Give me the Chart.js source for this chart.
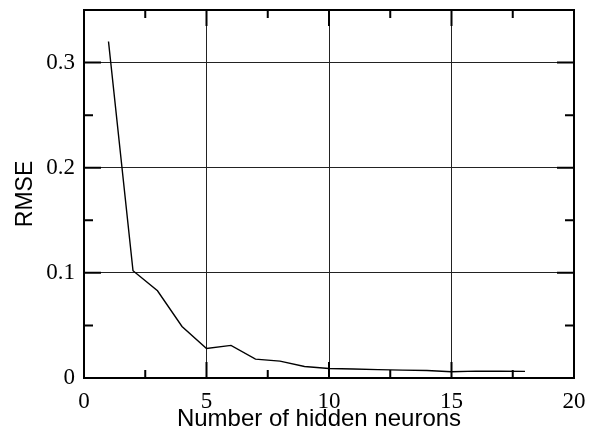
<!DOCTYPE html>
<html>
<head>
<meta charset="utf-8">
<script src="https://cdn.jsdelivr.net/npm/chart.js@4/dist/chart.umd.min.js"></script>
<style>
  html, body { margin: 0; padding: 0; background: #fff; }
  #wrap { width: 599px; height: 438px; position: relative; }
</style>
</head>
<body>
<div id="wrap"><canvas id="rmse-chart"></canvas></div>
<script>
// neuronas ocultas vs RMSE
var neurons = [1, 2, 3, 4, 5, 6, 7, 8, 9, 10, 11, 12, 13, 14, 15, 16, 17, 18];
var rmse = [0.320, 0.102, 0.083, 0.049, 0.028, 0.031, 0.018, 0.016, 0.011, 0.009,
            0.0085, 0.008, 0.0075, 0.0072, 0.006, 0.0065, 0.0064, 0.0063];
var xMajor = [0, 5, 10, 15, 20];
var xMinor = [2.5, 7.5, 12.5, 17.5];
var yMajor = [0, 0.1, 0.2, 0.3];
var yMinor = [0.05, 0.15, 0.25];

// marco y marcas hacia dentro en los cuatro lados
var framePlugin = {
    id: 'frame',
    afterDatasetsDraw: function (chart) {
        var ctx = chart.ctx, a = chart.chartArea;
        var xs = chart.scales.x, ys = chart.scales.y;
        ctx.save();
        ctx.strokeStyle = '#000';
        ctx.lineWidth = 2;
        ctx.beginPath();
        xMajor.forEach(function (v) {
            var p = xs.getPixelForValue(v);
            ctx.moveTo(p, a.bottom); ctx.lineTo(p, a.bottom - 16);
            ctx.moveTo(p, a.top); ctx.lineTo(p, a.top + 16);
        });
        xMinor.forEach(function (v) {
            var p = xs.getPixelForValue(v);
            ctx.moveTo(p, a.bottom); ctx.lineTo(p, a.bottom - 8);
            ctx.moveTo(p, a.top); ctx.lineTo(p, a.top + 8);
        });
        yMajor.forEach(function (v) {
            var p = ys.getPixelForValue(v);
            ctx.moveTo(a.left, p); ctx.lineTo(a.left + 17, p);
            ctx.moveTo(a.right, p); ctx.lineTo(a.right - 17, p);
        });
        yMinor.forEach(function (v) {
            var p = ys.getPixelForValue(v);
            ctx.moveTo(a.left, p); ctx.lineTo(a.left + 9, p);
            ctx.moveTo(a.right, p); ctx.lineTo(a.right - 9, p);
        });
        ctx.stroke();
        ctx.strokeRect(a.left, a.top, a.right - a.left, a.bottom - a.top);
        ctx.restore();
    }
};

var ctx = document.getElementById('rmse-chart').getContext('2d');
var rmseChart = new Chart(ctx, {
    type: 'line',
    data: {
        datasets: [{
            label: 'RMSE',
            data: neurons.map(function (n, i) { return { x: n, y: rmse[i] }; }),
            borderColor: '#000',
            borderWidth: 1.4,
            pointRadius: 0,
            fill: false,
            tension: 0
        }]
    },
    options: {
        responsive: true,
        maintainAspectRatio: false,
        animation: false,
        layout: { padding: { top: 10, right: 25, bottom: 0, left: 0 } },
        plugins: {
            legend: { display: false },
            tooltip: { enabled: false }
        },
        scales: {
            x: {
                type: 'linear',
                min: 0,
                max: 20,
                afterFit: function (s) {
                    s.height = 60;
                    s.paddingLeft = 0; s.paddingRight = 0;
                },
                afterBuildTicks: function (s) {
                    s.ticks = xMajor.map(function (v) { return { value: v }; });
                },
                grid: { color: '#222', lineWidth: 1, drawTicks: false },
                border: { display: false },
                ticks: {
                    padding: 10,
                    color: '#000',
                    font: { family: '"Liberation Serif", serif', size: 23 }
                },
                title: {
                    display: true,
                    // espacios finales para correr el título un poco a la izquierda
                    text: 'Number of hidden neurons   ',
                    color: '#000',
                    padding: { top: 0, bottom: 4 },
                    font: { family: '"Liberation Sans", Arial, sans-serif', size: 24 }
                }
            },
            y: {
                type: 'linear',
                min: 0,
                max: 0.35,
                afterFit: function (s) {
                    s.width = 84;
                    s.paddingTop = 0; s.paddingBottom = 0;
                },
                afterBuildTicks: function (s) {
                    s.ticks = yMajor.map(function (v) { return { value: v }; });
                },
                grid: { color: '#222', lineWidth: 1, drawTicks: false },
                border: { display: false },
                ticks: {
                    padding: 9,
                    color: '#000',
                    font: { family: '"Liberation Serif", serif', size: 23 },
                    callback: function (v) { return String(Math.round(v * 10) / 10); }
                },
                title: {
                    display: true,
                    text: 'RMSE',
                    color: '#000',
                    padding: { top: 12, bottom: 0 },
                    font: { family: '"Liberation Sans", Arial, sans-serif', size: 23 }
                }
            }
        }
    },
    plugins: [framePlugin]
});
</script>
</body>
</html>
